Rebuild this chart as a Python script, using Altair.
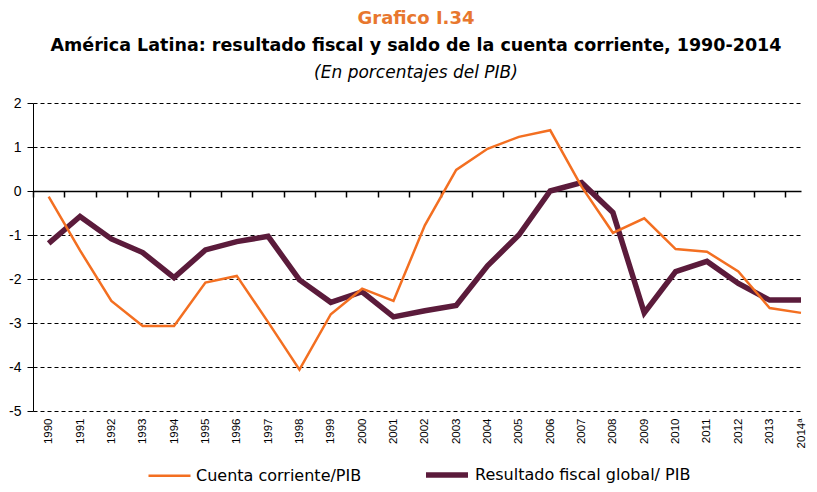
import altair as alt
import pandas as pd

# ---- data ----
years = list(range(1990, 2015))
cuenta_corriente = [-0.13, -1.35, -2.50, -3.07, -3.07, -2.08, -1.93, -2.98, -4.06, -2.80,
                    -2.22, -2.50, -0.78, 0.48, 0.96, 1.23, 1.38, 0.10, -0.95, -0.62,
                    -1.32, -1.38, -1.83, -2.66, -2.77]
resultado_fiscal = [-1.19, -0.58, -1.09, -1.40, -1.97, -1.34, -1.15, -1.03, -2.02, -2.53,
                    -2.29, -2.86, -2.72, -2.60, -1.70, -1.00, 0.00, 0.19, -0.49, -2.77,
                    -1.83, -1.60, -2.10, -2.48, -2.48]
series_names = ["Cuenta corriente/PIB", "Resultado fiscal global/ PIB"]
y_ticks = [-5, -4, -3, -2, -1, 0, 1, 2]
band_edges = [y - 0.5 for y in years]

title_top = "Grafico I.34"
title_main = "América Latina: resultado fiscal y saldo de la cuenta corriente, 1990-2014"
title_sub = "(En porcentajes del PIB)"

ORANGE = "#F36F21"
PLUM = "#5B1B3B"
TITLE_ORANGE = "#E8772E"

df = pd.concat([
    pd.DataFrame({"year": years, "value": cuenta_corriente, "serie": series_names[0]}),
    pd.DataFrame({"year": years, "value": resultado_fiscal, "serie": series_names[1]}),
])

xscale = alt.Scale(domain=[1989.5, 2014], nice=False, zero=False)
yscale = alt.Scale(domain=[-5, 2], nice=False)

legend = alt.Legend(orient="none", legendX=114, legendY=348, direction="horizontal",
                    symbolType="stroke", symbolSize=1764, labelFont="DejaVu Sans",
                    labelFontSize=16, labelColor="black", labelOffset=4,
                    columnPadding=53, labelLimit=400)
color = alt.Color("serie:N", scale=alt.Scale(domain=series_names, range=[ORANGE, PLUM]),
                  title=None, legend=legend)
swidth = alt.StrokeWidth("serie:N", scale=alt.Scale(domain=series_names, range=[2.5, 5.5]),
                         title=None, legend=legend)

yaxis = alt.Axis(values=y_ticks, grid=True, gridColor="black", gridDash=[4, 3], gridWidth=1,
                 domainColor="black", tickColor="black", tickSize=6, labelPadding=6,
                 labelFont="Liberation Sans", labelFontSize=14, labelColor="black",
                 labelExpr="'' + datum.value", title=None)

xaxis_labels = alt.Axis(values=years, labelExpr="datum.value == 2014 ? '2014ᵃ' : '' + datum.value",
                        orient="bottom", labelAngle=-90, labelAlign="right", labelBaseline="middle",
                        ticks=False, tickSize=0, domain=False, grid=False, labelPadding=7,
                        labelFont="Liberation Sans", labelFontSize=11.5, labelColor="black",
                        title=None)

xaxis_zero = alt.Axis(values=band_edges, labels=False, ticks=True, tickSize=6, tickWidth=1.5,
                      tickColor="black", domain=True, domainColor="black", domainWidth=1.5,
                      grid=False, offset=-220, title=None, orient="bottom")

lines_plum = alt.Chart(df).transform_filter(alt.datum.serie == series_names[1]).mark_line(strokeCap="butt").encode(
    x=alt.X("year:Q", scale=xscale, axis=xaxis_zero),
    y=alt.Y("value:Q", scale=yscale, axis=yaxis),
    color=color, strokeWidth=swidth,
)
lines_orange = alt.Chart(df).transform_filter(alt.datum.serie == series_names[0]).mark_line(strokeCap="butt").encode(
    x=alt.X("year:Q", scale=xscale, axis=xaxis_labels),
    y=alt.Y("value:Q", scale=yscale, axis=yaxis),
    color=color, strokeWidth=swidth,
)

tdf = pd.DataFrame({"a": [0]})
t1 = alt.Chart(tdf).mark_text(text=title_top, font="DejaVu Sans", fontSize=18, fontWeight="bold",
                              color=TITLE_ORANGE, align="center", baseline="middle").encode(
    x=alt.value(383), y=alt.value(-84))
t2 = alt.Chart(tdf).mark_text(text=title_main, font="DejaVu Sans", fontSize=17.5, fontWeight="bold",
                              color="black", align="center", baseline="middle").encode(
    x=alt.value(383), y=alt.value(-57))
t3 = alt.Chart(tdf).mark_text(text=title_sub, font="DejaVu Sans", fontSize=17, fontStyle="italic",
                              color="black", align="center", baseline="middle").encode(
    x=alt.value(383), y=alt.value(-30))

chart = alt.layer(lines_plum, lines_orange, t1, t2, t3).resolve_axis(x="independent").properties(
    width=768, height=308,
    autosize=alt.AutoSizeParams(type="none"),
    padding={"left": 25, "top": 95, "right": 8, "bottom": 73},
).configure_view(stroke=None)

chart.save("out.html", embed_options={"renderer": "svg", "actions": False})
